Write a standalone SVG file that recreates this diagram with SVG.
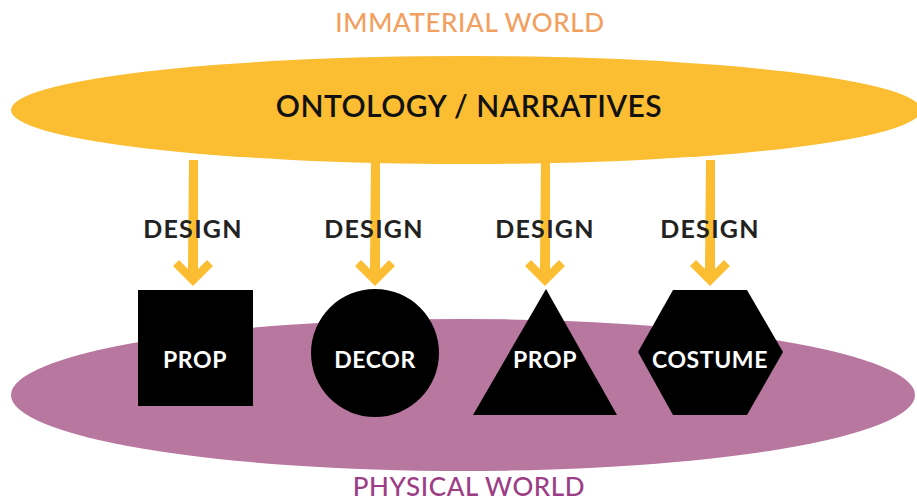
<svg xmlns="http://www.w3.org/2000/svg" width="917" height="502" viewBox="0 0 917 502">
<defs>
<style>
.t{font-family:Lato,"Open Sans","Liberation Sans",sans-serif;text-anchor:middle}
.world{font-size:26px;font-weight:500;letter-spacing:0.6px}
.main{font-size:30px;font-weight:600;fill:#111;letter-spacing:0.5px}
.lbl{font-size:25px;font-weight:700;fill:#222;letter-spacing:1.3px}
.in{font-size:23px;font-weight:700;fill:#fff;letter-spacing:0.6px}
.arrow{fill:#FBBD32}
.shape{fill:#000}
</style>
</defs>
<rect width="917" height="502" fill="#fff"/>
<g id="purple-world">
<ellipse cx="463" cy="395" rx="452" ry="76" fill="#B8779F"/>
<text class="t world" x="469" y="496" fill="#9C3E86">PHYSICAL WORLD</text>
</g>
<g id="immaterial-world">
<text class="t world" x="470" y="32" fill="#F2A060">IMMATERIAL WORLD</text>
</g>
<g id="ontology">
<ellipse cx="466" cy="110" rx="455" ry="54" fill="#FBBD32"/>
<text class="t main" x="469" y="117">ONTOLOGY / NARRATIVES</text>
</g>
<g id="connectors">
<path class="arrow" d="M189 160 h9 v109 l9 -9 l6 6 l-20 20 l-20 -20 l6 -6 l9 9 z"/>
<path class="arrow" d="M371 160 h9 v109 l9 -9 l6 6 l-20 20 l-20 -20 l6 -6 l9 9 z"/>
<path class="arrow" d="M541 160 h9 v109 l9 -9 l6 6 l-20 20 l-20 -20 l6 -6 l9 9 z"/>
<path class="arrow" d="M706 160 h9 v109 l9 -9 l6 6 l-20 20 l-20 -20 l6 -6 l9 9 z"/>
<text class="t lbl" x="193" y="238">DESIGN</text>
<text class="t lbl" x="374" y="238">DESIGN</text>
<text class="t lbl" x="545" y="238">DESIGN</text>
<text class="t lbl" x="710" y="238">DESIGN</text>
</g>
<g id="prop1">
<rect class="shape" x="138" y="290" width="115" height="116"/>
<text class="t in" x="195" y="368">PROP</text>
</g>
<g id="decor">
<circle class="shape" cx="375" cy="353" r="64"/>
<text class="t in" x="375" y="368">DECOR</text>
</g>
<g id="prop2">
<polygon class="shape" points="546,289 617,415 473,415"/>
<text class="t in" x="545" y="368">PROP</text>
</g>
<g id="costume">
<polygon class="shape" points="673,290 747,290 783,352 747,415 673,415 638,352"/>
<text class="t in" x="710" y="368">COSTUME</text>
</g>
</svg>
